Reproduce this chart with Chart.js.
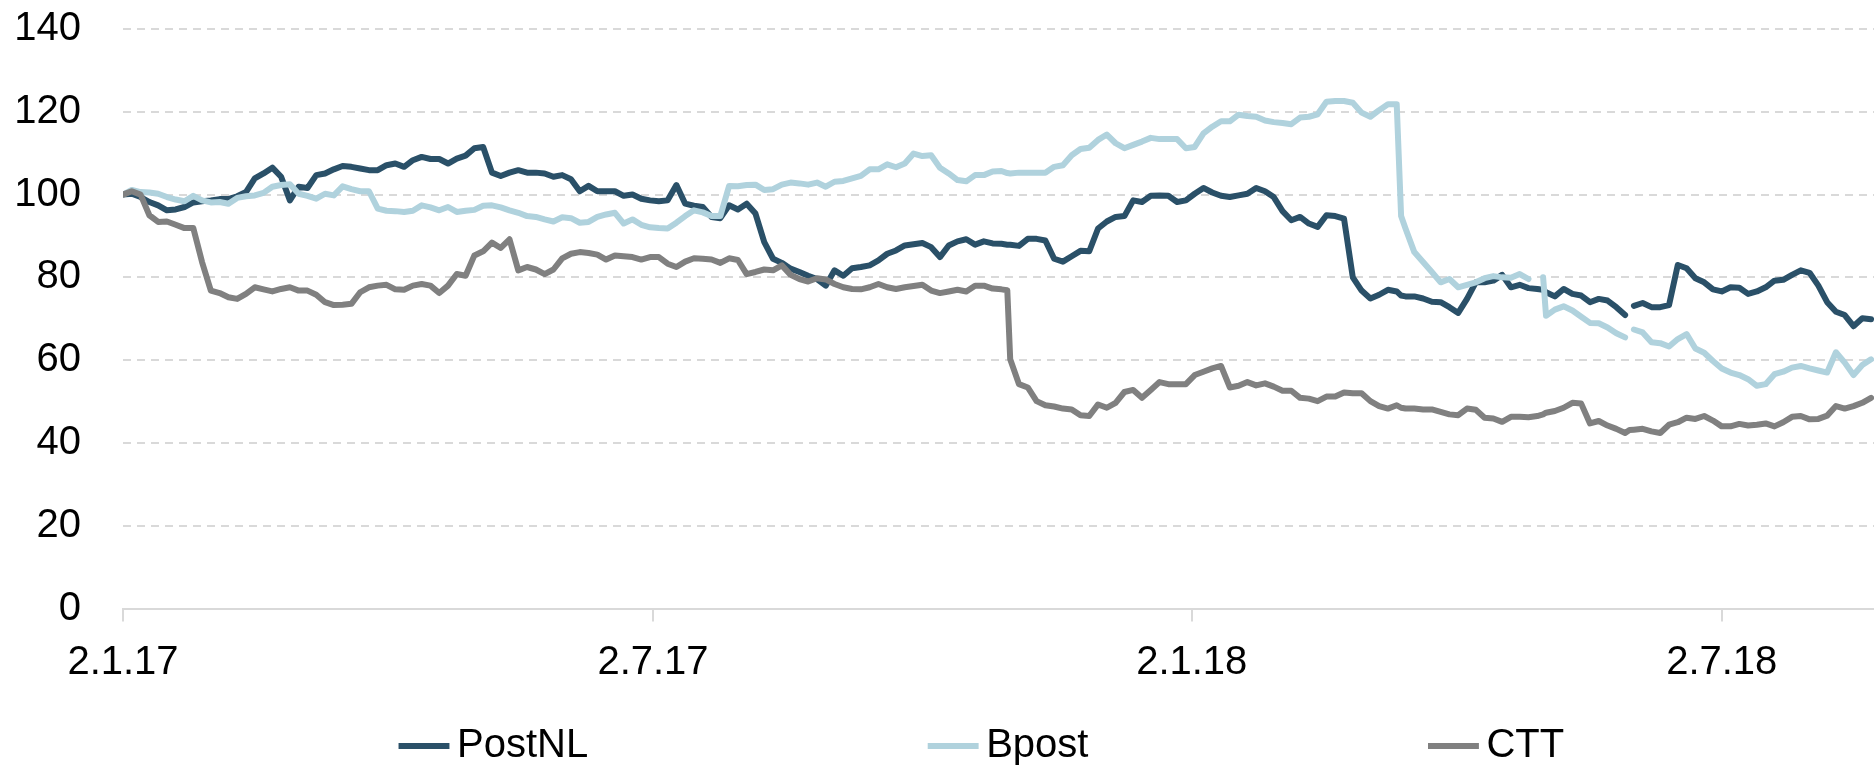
<!DOCTYPE html>
<html>
<head>
<meta charset="utf-8">
<script src="https://cdn.jsdelivr.net/npm/chart.js@4.4.1/dist/chart.umd.min.js"></script>
<style>
  html, body { margin: 0; padding: 0; background: #ffffff; }
  #wrap { width: 1874px; height: 768px; position: relative; }
</style>
</head>
<body>
<div id="wrap"><canvas id="c" width="1874" height="768"></canvas></div>
<script>
// Days since 2 Jan 2017 (x positions of the readings)
const days = [
  0,3,6,9,12,15,18,21,24,27,30,33,36,39,42,45,48,51,54,57,60,63,66,69,72,75,78,81,84,87,90,93,96,99,
  102,105,108,111,114,117,120,123,126,129,132,135,138,141,144,147,150,153,156,159,162,165,168,171,174,177,180,183,186,189,192,195,198,
  201,204,207,210,213,216,219,222,225,228,231,234,237,240,243,246,249,252,255,258,261,264,267,270,273,276,279,282,285,288,291,294,297,
  300,302,303,306,309,312,315,318,321,324,327,330,333,336,339,342,345,348,351,354,357,360,363,366,369,372,375,378,381,384,387,390,393,396,
  399,402,405,408,411,414,417,420,423,426,429,432,435,436.5,438,441,444,447,450,453,456,459,462,465,468,471,474,477,480,483,485,486,489,492,495,
  498,501,504,507,510,513,514.5,516,519,522,525,528,531,534,537,540,543,546,549,552,555,558,561,564,567,570,573,576,579,582,585,588,591,594,597
];

const postnl = [
  100,100.2,99.4,98.2,97.4,96.2,96.4,97.0,98.1,98.4,98.6,98.9,98.9,99.6,100.6,103.9,105.1,106.5,104.3,98.6,101.9,101.6,104.7,105.1,106.1,106.9,106.7,106.3,105.9,105.9,107.1,107.5,106.7,108.3,
  109.1,108.6,108.6,107.5,108.7,109.4,111.2,111.5,105.3,104.5,105.3,105.9,105.3,105.3,105.1,104.3,104.7,103.7,100.8,102.1,100.8,100.8,100.8,99.7,100.0,99.0,98.6,98.4,98.6,102.3,97.8,97.3,97.0,
  94.6,94.3,97.4,96.4,97.8,95.4,88.5,84.5,83.5,82.1,81.3,80.4,79.6,78.0,81.7,80.4,82.2,82.5,82.9,84.1,85.7,86.5,87.7,88.0,88.3,87.3,84.9,87.7,88.7,89.2,87.9,88.7,88.2,
  88.1,87.9,87.9,87.6,89.3,89.3,88.9,84.5,83.8,85.1,86.4,86.3,91.8,93.5,94.6,94.8,98.6,98.2,99.7,99.8,99.7,98.2,98.6,100.2,101.6,100.5,99.7,99.4,99.8,100.2,101.6,100.8,99.4,96.0,
  93.8,94.6,93.0,92.2,95.0,94.8,94.2,80.0,76.8,74.9,75.8,77.0,76.6,75.6,75.4,75.4,74.9,74.1,74.0,72.8,71.4,74.8,78.8,78.8,79.2,80.6,77.6,78.2,77.4,77.2,77.0,76.4,75.4,77.2,76.0,
  75.6,74.0,74.8,74.4,72.8,70.9,null,73.1,73.8,72.8,72.8,73.3,83.0,82.2,79.8,78.8,77.1,76.6,77.6,77.5,76.0,76.6,77.6,79.2,79.4,80.6,81.7,81.1,78.0,74.0,71.7,70.9,68.2,70.1,69.9
];

const bpost = [
  100,101.1,100.6,100.5,100.2,99.4,98.8,98.4,99.7,98.6,98.1,98.2,97.8,99.2,99.6,99.8,100.4,101.9,102.3,102.5,100.2,99.7,99.0,100.2,99.8,102.0,101.3,100.8,100.8,96.6,96.1,96.0,95.8,96.1,
  97.4,96.9,96.2,97.0,95.8,96.1,96.3,97.3,97.4,96.9,96.2,95.6,94.8,94.6,94.0,93.5,94.5,94.3,93.2,93.4,94.6,95.2,95.6,93.0,94.0,92.7,92.1,91.9,91.8,93.2,94.8,96.2,95.7,
  94.8,94.8,102.1,102.0,102.3,102.4,101.1,101.3,102.4,102.9,102.7,102.4,102.9,101.9,103.1,103.3,103.9,104.5,106.1,106.1,107.3,106.6,107.5,109.9,109.3,109.5,106.5,105.1,103.5,103.2,104.7,104.7,105.6,
  105.7,105.2,105.1,105.3,105.3,105.3,105.3,106.7,107.1,109.5,111.0,111.3,113.2,114.5,112.4,111.2,112.0,112.8,113.7,113.4,113.4,113.4,111.2,111.5,114.8,116.4,117.7,117.7,119.3,119.0,118.8,117.9,117.5,117.3,
  117.0,118.6,118.8,119.4,122.4,122.6,122.6,122.2,119.8,118.8,120.4,121.8,121.8,94.8,91.8,86.1,83.7,81.3,78.8,79.6,77.6,78.2,78.8,79.8,80.3,80.0,79.9,80.8,79.6,null,80.0,70.7,72.2,73.0,72.0,
  70.5,69.0,68.9,67.9,66.5,65.5,null,67.4,66.7,64.3,64.1,63.3,65.1,66.3,62.8,61.8,59.8,58.0,57.0,56.4,55.4,53.8,54.2,56.6,57.2,58.2,58.6,58.0,57.5,57.0,61.9,59.4,56.4,58.8,60.2
];

const ctt = [
  100,100.8,100,95.0,93.4,93.5,92.7,91.9,91.9,83.7,76.8,76.2,75.2,74.8,76.0,77.6,77.1,76.6,77.2,77.6,76.8,76.8,75.8,74.0,73.3,73.4,73.6,76.4,77.6,78.0,78.2,77.1,77.0,78.0,
  78.4,78.0,76.2,78.0,80.8,80.4,85.3,86.3,88.4,87.1,89.2,81.7,82.5,81.9,80.8,81.9,84.6,85.7,86.1,85.9,85.5,84.3,85.3,85.1,84.9,84.3,84.9,84.9,83.3,82.5,83.8,84.6,84.5,
  84.3,83.5,84.6,84.2,80.8,81.3,81.9,81.7,82.9,80.6,79.6,79.0,79.8,79.5,78.4,77.6,77.2,77.1,77.6,78.4,77.6,77.2,77.6,77.9,78.2,76.8,76.2,76.6,77.0,76.6,78.0,78.0,77.3,
  77.1,76.9,60.2,54.2,53.4,50.1,49.1,48.8,48.3,48.1,46.7,46.5,49.3,48.5,49.7,52.3,52.8,50.9,52.8,54.7,54.2,54.2,54.2,56.4,57.2,58.0,58.6,53.4,53.8,54.7,53.9,54.4,53.6,52.6,
  52.6,50.9,50.7,50.1,51.2,51.2,52.2,52.0,52.0,50.1,48.9,48.3,49.1,48.5,48.3,48.3,48.1,48.1,47.5,46.9,46.7,48.3,48.0,46.1,45.9,45.1,46.3,46.3,46.2,46.5,46.9,47.3,47.7,48.5,49.7,
  49.5,44.7,45.3,44.2,43.4,42.4,43.1,43.2,43.4,42.8,42.4,44.4,45.0,46.1,45.8,46.5,45.4,44.0,44.0,44.6,44.2,44.4,44.7,44.0,45.0,46.3,46.5,45.7,45.8,46.6,48.9,48.3,48.9,49.7,50.9
];

const seriesNames = ['PostNL', 'Bpost', 'CTT'];
const tickDays = [0, 181, 365, 546];
const tickLabels = ['2.1.17', '2.7.17', '2.1.18', '2.7.18'];
const yTicks = [0, 20, 40, 60, 80, 100, 120, 140];

[postnl, bpost, ctt].forEach((s, i) => {
  if (s.length !== days.length) throw new Error(seriesNames[i] + ' length ' + s.length + ' vs ' + days.length);
});

// styling
const colors = ['#2a5068', '#b0d2dd', '#808080'];
const FONT = { family: "'Liberation Sans', Arial, sans-serif", size: 40 };
const legendPad = 352;
const legendStartX = 411;
const legendCenterY = 746;

const legendPlacer = {
  id: 'legendPlacer',
  afterLayout(chart) {
    const lg = chart.legend;
    if (!lg) return;
    lg.left = legendStartX - legendPad;
    lg.right = 4000;
    lg.top = legendCenterY - FONT.size / 2 - legendPad;
    lg.bottom = 768;
  }
};

const series = [postnl, bpost, ctt];
const datasets = series.map((s, i) => ({
  label: seriesNames[i],
  data: days.map((d, j) => ({ x: d, y: s[j] })),
  borderColor: colors[i],
  backgroundColor: colors[i],
  borderWidth: 6,
  pointRadius: 0,
  pointHoverRadius: 0,
  tension: 0,
  borderJoinStyle: 'round',
  borderCapStyle: 'round',
  spanGaps: false,
  order: 3 - i
}));

new Chart(document.getElementById('c'), {
  type: 'line',
  data: { datasets },
  plugins: [legendPlacer],
  options: {
    responsive: false,
    animation: false,
    events: [],
    layout: { padding: { left: 0, top: 29, right: 0, bottom: 0 } },
    scales: {
      x: {
        type: 'linear',
        min: 0,
        max: 598,
        afterBuildTicks: s => { s.ticks = tickDays.map(v => ({ value: v })); },
        afterFit: s => { s.height = 99.5; },
        ticks: {
          autoSkip: false,
          maxRotation: 0,
          padding: 17,
          color: '#000000',
          font: FONT,
          callback: v => { const k = tickDays.indexOf(v); return k >= 0 ? tickLabels[k] : ''; }
        },
        grid: { drawOnChartArea: false, drawTicks: true, tickLength: 13, color: '#d9d9d9', lineWidth: 2 },
        border: { display: true, color: '#d9d9d9', width: 2 }
      },
      y: {
        min: 0,
        max: 140,
        afterBuildTicks: s => { s.ticks = yTicks.map(v => ({ value: v })); },
        afterFit: s => { s.width = 123; },
        ticks: { padding: 0, color: '#000000', font: FONT },
        grid: { color: '#d9d9d9', lineWidth: 2, drawTicks: true, tickLength: 42, tickColor: 'rgba(0,0,0,0)' },
        border: { display: false, dash: [8, 6] }
      }
    },
    plugins: {
      tooltip: { enabled: false },
      legend: {
        display: true,
        position: 'bottom',
        align: 'start',
        maxHeight: 60,
        labels: {
          usePointStyle: true,
          pointStyle: 'line',
          boxWidth: 26,
          boxHeight: 36,
          padding: legendPad,
          color: '#000000',
          font: FONT,
          sort: (a, b) => a.datasetIndex - b.datasetIndex
        }
      }
    }
  }
});
</script>
</body>
</html>
